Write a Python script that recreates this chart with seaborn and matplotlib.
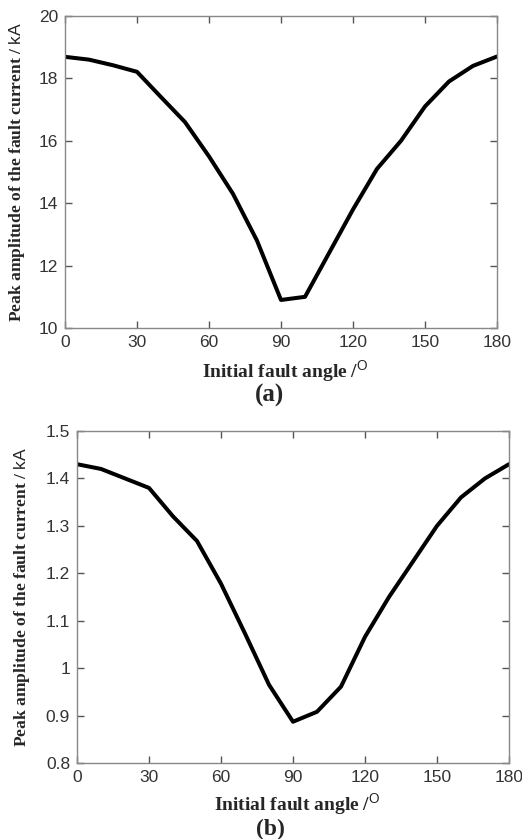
import numpy as np
import pandas as pd
import matplotlib
matplotlib.use("Agg")
import matplotlib.pyplot as plt
import seaborn as sns

# fault angle in degrees (every 10 deg)
angle = [0, 10, 20, 30, 40, 50, 60, 70, 80, 90, 100, 110, 120, 130, 140, 150, 160, 170, 180]

# (a) peak fault current, kA
peak_a = [18.69, 18.6, 18.42, 18.21, 17.4, 16.6, 15.5, 14.3, 12.8, 10.9, 11.0,
          12.4, 13.8, 15.1, 16.0, 17.1, 17.9, 18.4, 18.7]

# (b) peak fault current, kA
peak_b = [1.43, 1.42, 1.40, 1.38, 1.32, 1.268, 1.178, 1.073, 0.965, 0.887, 0.908,
          0.961, 1.066, 1.15, 1.225, 1.30, 1.36, 1.40, 1.43]

xticks = [0, 30, 60, 90, 120, 150, 180]
yticks_a = [10, 12, 14, 16, 18, 20]
yticks_b = [0.8, 0.9, 1, 1.1, 1.2, 1.3, 1.4, 1.5]
yticklabels_b = ["0.8", "0.9", "1", "1.1", "1.2", "1.3", "1.4", "1.5"]

sns.set_style("ticks")
plt.rcParams["font.family"] = ["Liberation Sans", "DejaVu Sans"]
plt.rcParams["mathtext.fontset"] = "custom"
plt.rcParams["mathtext.rm"] = "Liberation Sans"

fig = plt.figure(figsize=(5.22, 8.39), dpi=100)
ax_a = fig.add_axes([0.1245, 0.609, 0.8276, 0.372])
ax_b = fig.add_axes([0.1475, 0.0906, 0.8276, 0.3957])

ylabel = "Peak amplitude of the fault current / $\\mathrm{kA}$"
xlabel = "Initial fault angle /$^{\\mathrm{O}}$"

def draw_panel(ax, y, yticks, ylim, ylab_x, xlab_y, yticklabels=None):
    df = pd.DataFrame({"angle": angle, "peak": y})
    sns.lineplot(data=df, x="angle", y="peak", ax=ax, color="black", linewidth=2.9)
    ax.set_xlim(0, 180)
    ax.set_ylim(*ylim)
    ax.set_xticks(xticks)
    ax.set_yticks(yticks)
    if yticklabels is not None:
        ax.set_yticklabels(yticklabels)
    for s in ax.spines.values():
        s.set_color("#888888")
        s.set_linewidth(1.0)
    ax.tick_params(direction="in", top=True, right=True, length=5, width=1,
                   color="#555555", labelsize=12.5, labelcolor="#333333", pad=5)
    ax.set_ylabel(ylabel, family=["Liberation Serif"], fontweight="bold", fontsize=12.6)
    ax.set_xlabel(xlabel, family=["Liberation Serif"], fontweight="bold", fontsize=14)
    ax.yaxis.set_label_coords(ylab_x, 0.5)
    ax.xaxis.set_label_coords(0.51, xlab_y)

draw_panel(ax_a, peak_a, yticks_a, (10, 20), -0.088, -0.096)
draw_panel(ax_b, peak_b, yticks_b, (0.8, 1.5), -0.104, -0.086, yticklabels_b)

fig.text(270 / 522, 1 - 395 / 839, "(a)", family="Liberation Serif", fontweight="bold",
         fontsize=18, ha="center", va="center")
fig.text(270 / 522, 1 - 829 / 839, "(b)", family="Liberation Serif", fontweight="bold",
         fontsize=17, ha="center", va="center")

fig.savefig("out.png", dpi=100, facecolor="white")
